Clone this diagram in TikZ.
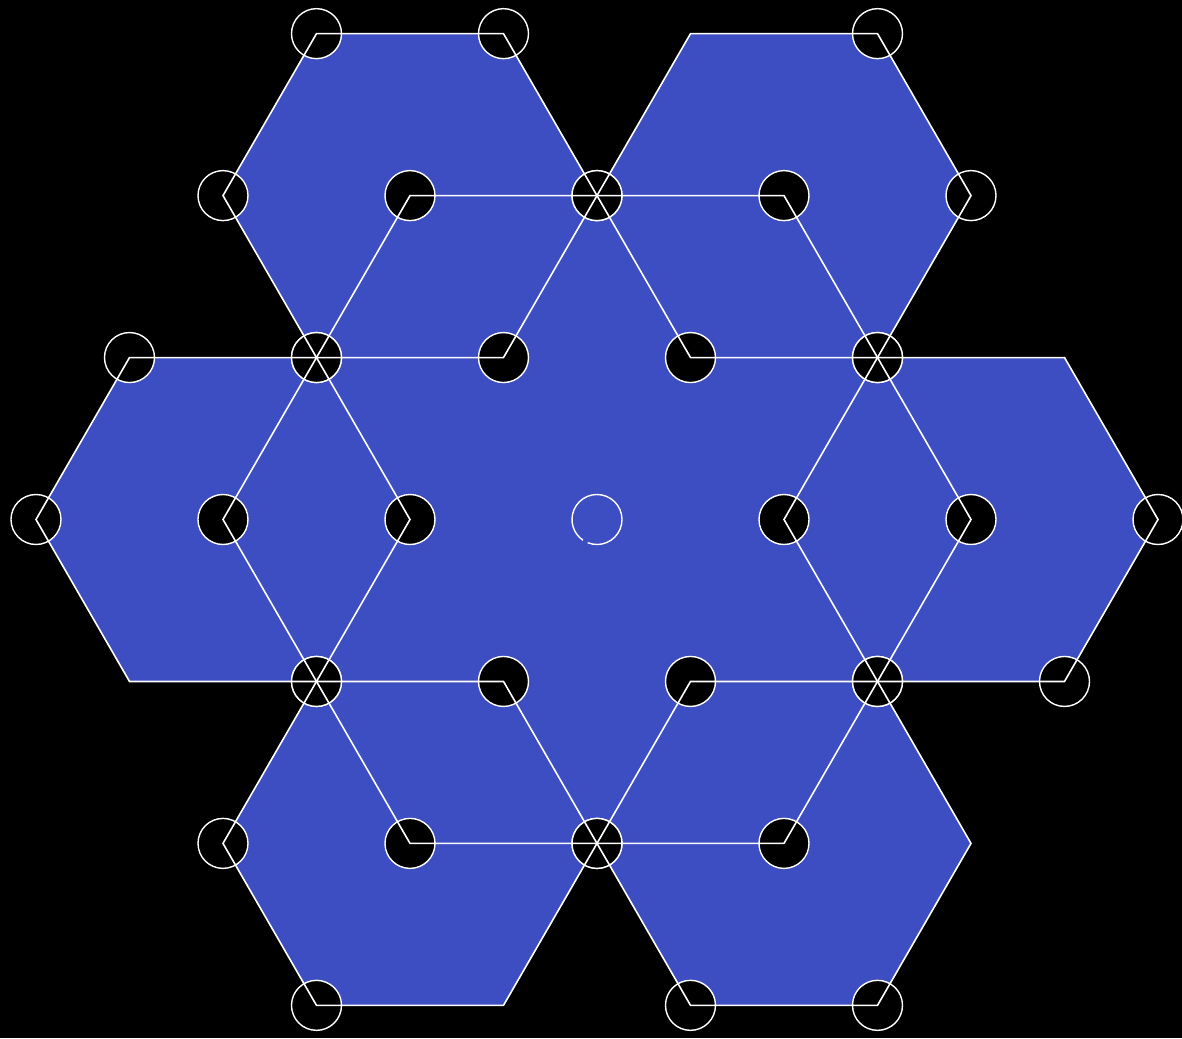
\documentclass[tikz,border=0pt]{standalone}
\usepackage{xcolor}
\usepackage{tikz}
\usetikzlibrary{calc}
\definecolor{tileblue}{HTML}{3D4DC2}

\begin{document}
\begin{tikzpicture}[
  x=0.5pt,y=0.5pt,
  tile/.style={fill=tileblue},
  rim/.style={draw=white,line width=0.8pt,line join=miter},
  dot/.style={draw=white,fill=black,line width=0.7pt},
  ring/.style={draw=white,line width=0.7pt}
]
\fill[black] (-597,-518.5) rectangle (585,519.5);
\useasboundingbox (-597,-518.5) rectangle (585,519.5);
% tile centres
\coordinate (c0) at (0,0);
\foreach \a [count=\i] in {0,60,...,300}
  \coordinate (c\i) at (\a:374);
% blue tiles
\fill[tile] (0:374) -- (60:374) -- (120:374) -- (180:374) -- (240:374) -- (300:374) -- cycle;
\foreach \i in {1,...,6}
  \fill[tile,shift={(c\i)}] (0:187) -- (60:187) -- (120:187) -- (180:187) -- (240:187) -- (300:187) -- cycle;
% dots on the corners
\foreach \i in {1,...,6}
  \draw[dot] (c\i) circle[radius=12.5pt];
\foreach \i/\vlist in {1/{0,120,180,240,300},2/{0,60,180,240,300},3/{0,60,120,180,240,300},
                       4/{0,60,120,180,300},5/{0,60,120,180,240},6/{60,120,180,240,300}}
  \foreach \b in \vlist
    \draw[dot] ($(c\i)+(\b:187)$) circle[radius=12.5pt];
\draw[ring] (c0) ++(248:25) arc[start angle=248,end angle=596,radius=12.5pt];
% outlines
\draw[rim] (0:374) -- (60:374) -- (120:374) -- (180:374) -- (240:374) -- (300:374) -- cycle;
\foreach \i in {1,...,6}
  \draw[rim,shift={(c\i)}] (0:187) -- (60:187) -- (120:187) -- (180:187) -- (240:187) -- (300:187) -- cycle;
\end{tikzpicture}
\end{document}
